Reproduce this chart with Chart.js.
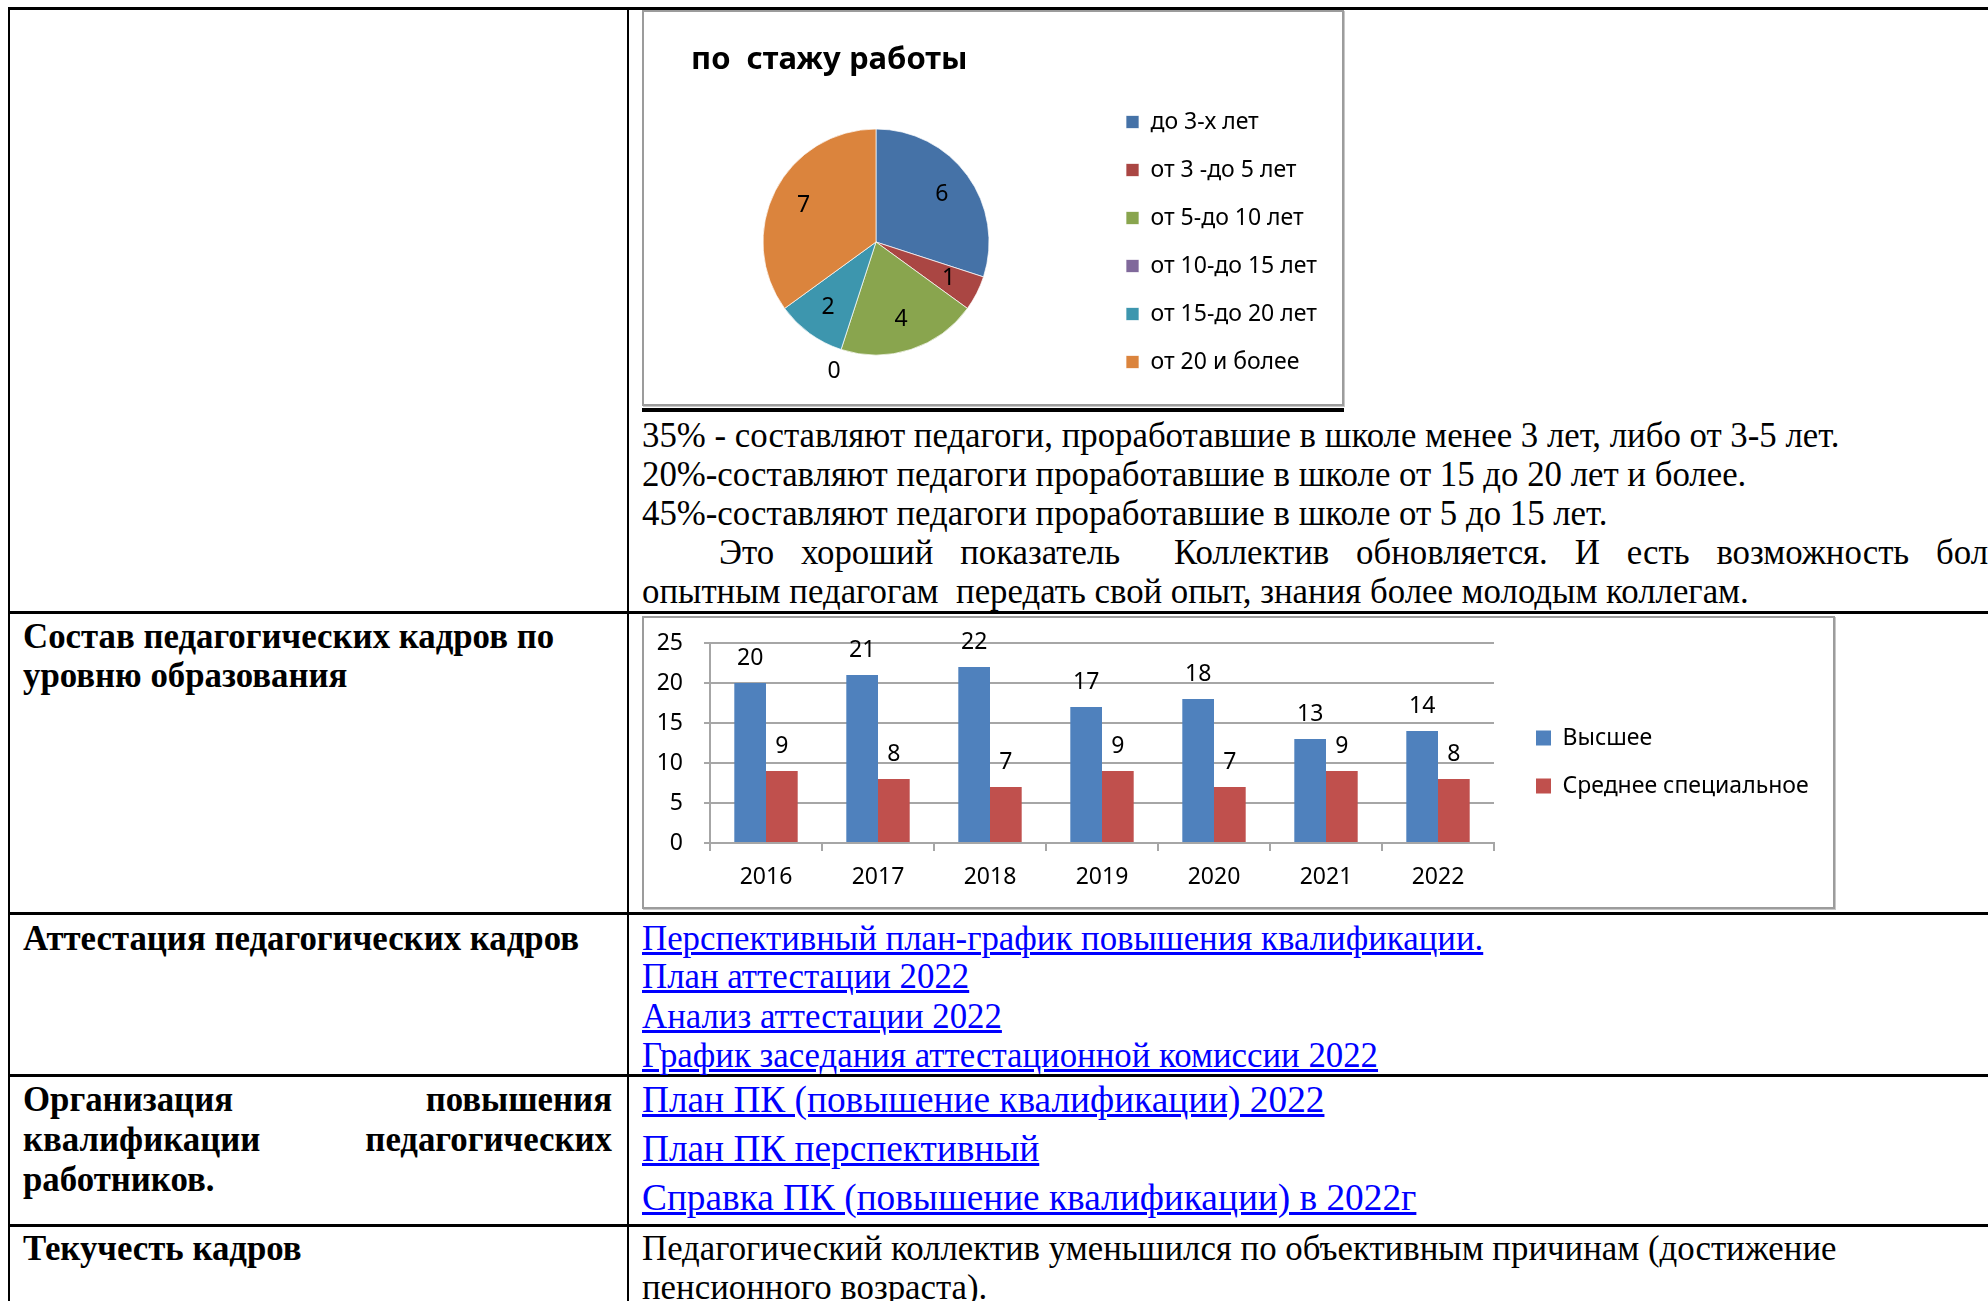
<!DOCTYPE html>
<html lang="ru">
<head>
<meta charset="utf-8">
<title>Кадры</title>
<script src="https://cdn.jsdelivr.net/npm/chart.js@4.4.1/dist/chart.umd.min.js"></script>
<style>
  html, body { margin: 0; padding: 0; background: #fff; }
  body { width: 1988px; height: 1301px; position: relative; overflow: hidden; }
  .line { position: absolute; background: #000; }
  .t { position: absolute; font-family: "Liberation Serif", "Times New Roman", serif; font-size: 34.8px;
       line-height: 40px; white-space: nowrap; color: #000; }
  .b { font-weight: bold; }
  .j { white-space: normal; text-align: justify; text-align-last: justify; }
  .t a { color: #0000ff; text-decoration: underline; }
  .box { position: absolute; border: 2px solid #9c9c9c; box-shadow: 1px 1px 0 #c8c8c8; background: #fff; }
  .box canvas { display: block; }
</style>
</head>
<body>

<!-- сетка таблицы -->
<div class="line" style="left:8px;top:7px;width:1980px;height:3px"></div>
<div class="line" style="left:8px;top:7px;width:2px;height:1294px"></div>
<div class="line" style="left:627px;top:7px;width:2px;height:1294px"></div>
<div class="line" style="left:8px;top:611px;width:1980px;height:3px"></div>
<div class="line" style="left:8px;top:912px;width:1980px;height:3px"></div>
<div class="line" style="left:8px;top:1074px;width:1980px;height:3px"></div>
<div class="line" style="left:8px;top:1224px;width:1980px;height:3px"></div>

<!-- по стажу работы -->
<div class="box" style="left:642px;top:10px;width:698px;height:392px">
  <canvas id="stazhChart" width="698" height="392"></canvas>
</div>
<div class="line" style="left:642px;top:408px;width:702px;height:4px"></div>

<div class="t" style="left:642px;top:416px">35% - составляют педагоги, проработавшие в школе менее 3 лет, либо от 3-5 лет.</div>
<div class="t" style="left:642px;top:455px">20%-составляют педагоги проработавшие в школе от 15 до 20 лет и более.</div>
<div class="t" style="left:642px;top:494px">45%-составляют педагоги проработавшие в школе от 5 до 15 лет.</div>
<div class="t j" style="left:719px;top:533px;width:1300px">Это хороший показатель&nbsp; Коллектив обновляется. И есть возможность более</div>
<div class="t" style="left:642px;top:572px">опытным педагогам&nbsp; передать свой опыт, знания более молодым коллегам.</div>

<!-- уровень образования -->
<div class="t b" style="left:23px;top:617px">Состав педагогических кадров по</div>
<div class="t b" style="left:23px;top:656px">уровню образования</div>
<div class="box" style="left:642px;top:616px;width:1189px;height:289px">
  <canvas id="obrChart" width="1189" height="289"></canvas>
</div>

<!-- аттестация -->
<div class="t b" style="left:23px;top:919px">Аттестация педагогических кадров</div>
<div class="t" style="left:642px;top:919px"><a href="#">Перспективный план-график повышения квалификации.</a></div>
<div class="t" style="left:642px;top:957px"><a href="#">План аттестации 2022</a></div>
<div class="t" style="left:642px;top:997px"><a href="#">Анализ аттестации 2022</a></div>
<div class="t" style="left:642px;top:1036px"><a href="#">График заседания аттестационной комиссии 2022</a></div>

<!-- повышение квалификации -->
<div class="t b j" style="left:23px;top:1080px;width:589px">Организация повышения</div>
<div class="t b j" style="left:23px;top:1120px;width:589px">квалификации педагогических</div>
<div class="t b" style="left:23px;top:1160px">работников.</div>
<div class="t" style="left:642px;top:1080px;font-size:37.3px"><a href="#">План ПК (повышение квалификации) 2022</a></div>
<div class="t" style="left:642px;top:1129px;font-size:37.3px"><a href="#">План ПК перспективный</a></div>
<div class="t" style="left:642px;top:1178px;font-size:37.3px"><a href="#">Справка ПК (повышение квалификации) в 2022г</a></div>

<!-- текучесть -->
<div class="t b" style="left:23px;top:1229px">Текучесть кадров</div>
<div class="t" style="left:642px;top:1229px">Педагогический коллектив уменьшился по объективным причинам (достижение</div>
<div class="t" style="left:642px;top:1268px">пенсионного возраста).</div>

<script>
// стаж работы
const stazhLabels = ["до 3-х лет", "от 3 -до 5 лет", "от 5-до 10 лет", "от 10-до 15 лет", "от 15-до 20 лет", "от 20 и более"];
const stazhValues = [6, 1, 4, 0, 2, 7];
const stazhColors = ["#4572a7", "#aa4643", "#89a54e", "#80699b", "#3d96ae", "#db843d"];

// уровень образования
const years = ["2016", "2017", "2018", "2019", "2020", "2021", "2022"];
const seriesNames = ["Высшее", "Среднее специальное"];
const vysshee = [20, 21, 22, 17, 18, 13, 14];
const srednee = [9, 8, 7, 9, 7, 9, 8];

const font = {family: "'Noto Sans', 'Open Sans', sans-serif", size: 23};
const gridColor = "#a6a6a6";
const legendPad = 25;

// ширина легенды так же, как её считает Chart.js
const measure = document.createElement("canvas").getContext("2d");
function legendWidth(labels, boxWidth) {
    measure.font = font.size + "px " + font.family;
    const tw = Math.max(...labels.map(l => measure.measureText(l).width));
    return legendPad + boxWidth + font.size / 2 + tw + 10;
}

// пустая ось справа: только отступ между графиком и легендой
const gapAxis = width => ({
    type: "linear", axis: "y", position: "right",
    grid: {display: false}, border: {display: false}, ticks: {display: false},
    afterFit: s => { s.width = width; }
});

// подписи значений на секторах
const pieValueLabels = {
    id: "pieValueLabels",
    afterDatasetsDraw(chart) {
        const ctx = chart.ctx;
        ctx.save();
        ctx.font = font.size + "px " + font.family;
        ctx.fillStyle = "#000";
        ctx.textAlign = "center";
        ctx.textBaseline = "middle";
        chart.getDatasetMeta(0).data.forEach((arc, i) => {
            const p = arc.getProps(["x", "y", "startAngle", "endAngle", "outerRadius"], true);
            const mid = (p.startAngle + p.endAngle) / 2;
            const r = stazhValues[i] === 0 ? p.outerRadius * 1.2 : p.outerRadius * 0.72;
            ctx.fillText(String(stazhValues[i]), p.x + Math.cos(mid) * r, p.y + Math.sin(mid) * r);
        });
        ctx.restore();
    }
};

// подписи значений над столбцами
const barValueLabels = {
    id: "barValueLabels",
    afterDatasetsDraw(chart) {
        const ctx = chart.ctx;
        ctx.save();
        ctx.font = font.size + "px " + font.family;
        ctx.fillStyle = "#000";
        ctx.textAlign = "center";
        ctx.textBaseline = "middle";
        chart.data.datasets.forEach((ds, di) => {
            chart.getDatasetMeta(di).data.forEach((bar, i) => {
                ctx.fillText(String(ds.data[i]), bar.x, bar.y - 25);
            });
        });
        ctx.restore();
    }
};

// круговая: легенда начинается на x=457, круг по центру 47..417
const pieCanvas = document.getElementById("stazhChart");
const pieLegendW = legendWidth(stazhLabels, 13);

new Chart(pieCanvas, {
    type: "pie",
    data: {
        labels: stazhLabels,
        datasets: [{
            data: stazhValues,
            backgroundColor: stazhColors,
            borderColor: "rgba(255,255,255,0.7)",
            borderWidth: 1,
            radius: 113
        }]
    },
    options: {
        responsive: false,
        animation: false,
        layout: {padding: {left: 47, top: 0, right: pieCanvas.width - 457 - pieLegendW, bottom: 0}},
        scales: {gap: gapAxis(40)},
        plugins: {
            title: {
                display: true,
                text: "по  стажу работы",
                align: "start",
                color: "#000",
                font: {family: font.family, size: 31, weight: "bold"},
                padding: {top: 29.4, bottom: 1.4}
            },
            legend: {
                position: "right",
                fullSize: false,
                maxWidth: 1000,
                labels: {color: "#000", font: font, boxWidth: 13, boxHeight: 13, padding: legendPad}
            },
            tooltip: {enabled: false}
        }
    },
    plugins: [pieValueLabels]
});

// столбчатая: легенда начинается на x=867
const barCanvas = document.getElementById("obrChart");
const barLegendW = legendWidth(seriesNames, 15);

new Chart(barCanvas, {
    type: "bar",
    data: {
        labels: years,
        datasets: [
            {label: seriesNames[0], data: vysshee, backgroundColor: "#4f81bd"},
            {label: seriesNames[1], data: srednee, backgroundColor: "#c0504d"}
        ]
    },
    options: {
        responsive: false,
        animation: false,
        layout: {padding: {left: 0, top: 16, right: barCanvas.width - 867 - barLegendW, bottom: 17}},
        datasets: {bar: {barPercentage: 1, categoryPercentage: 0.566}},
        scales: {
            x: {
                grid: {drawOnChartArea: false, tickLength: 8, color: gridColor, lineWidth: 2},
                border: {color: gridColor, width: 2},
                ticks: {color: "#000", font: font, padding: 13},
                afterFit: s => { s.height = 47; }
            },
            y: {
                min: 0,
                max: 25,
                grid: {color: gridColor, lineWidth: 2, tickLength: 6},
                border: {color: gridColor, width: 2},
                ticks: {stepSize: 5, color: "#000", font: {...font, lineHeight: 8 / 23}, padding: 21},
                afterFit: s => { s.width = 66; }
            },
            gap: gapAxis(17)
        },
        plugins: {
            legend: {
                position: "right",
                maxWidth: 1000,
                labels: {color: "#000", font: font, boxWidth: 15, boxHeight: 15, padding: legendPad}
            },
            tooltip: {enabled: false}
        }
    },
    plugins: [barValueLabels]
});
</script>
</body>
</html>
